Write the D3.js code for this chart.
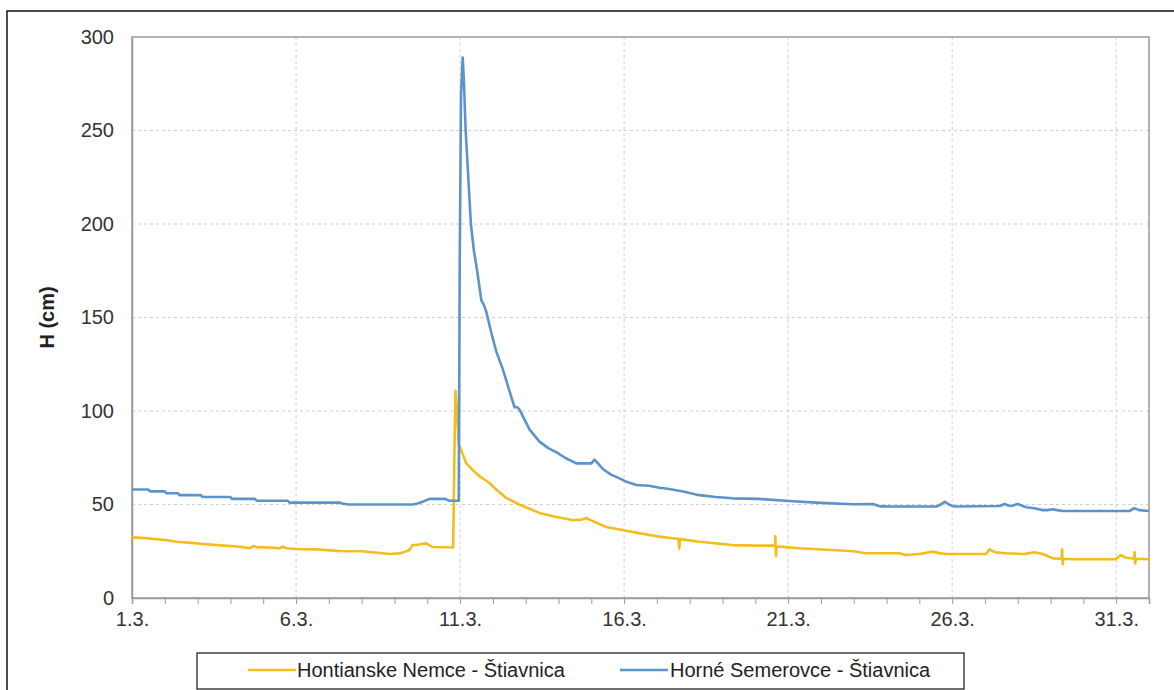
<!DOCTYPE html>
<html>
<head>
<meta charset="utf-8">
<script src="https://cdn.jsdelivr.net/npm/d3@7"></script>
<style>
  html, body { margin: 0; padding: 0; background: #fff; }
  svg { display: block; font-family: Arial, "Liberation Sans", sans-serif; }
</style>
</head>
<body>
<svg id="chart" width="1174" height="690"></svg>
<script>
// ---- Data (day of March, water level H in cm) ----
const seriesNames = ["Hontianske Nemce - Štiavnica", "Horné Semerovce - Štiavnica"];
const seriesColors = ["#f4bd1c", "#5b94cc"];

const xTickDays = [1, 6, 11, 16, 21, 26, 31];
const xTickLabels = ["1.3.", "6.3.", "11.3.", "16.3.", "21.3.", "26.3.", "31.3."];
const yTicks = [0, 50, 100, 150, 200, 250, 300];

// Hontianske Nemce - Štiavnica
const hnTime = [1.0,1.4,1.75,2.0,2.36,2.8,3.27,3.8,4.29,4.59,4.7,4.8,5.2,5.5,5.6,5.7,6.01,6.6,7.33,8.0,8.65,8.85,9.2,9.46,9.55,9.7,9.97,10.1,10.16,10.5,10.79,10.83,10.86,10.89,10.96,10.99,11.19,11.39,11.6,11.9,12.1,12.41,12.8,13.42,13.9,14.42,14.7,14.84,15.0,15.45,15.9,16.46,17.07,17.6,17.66,17.68,17.7,18.29,19.3,20.0,20.6,20.61,20.63,20.65,21.33,22.34,23.0,23.36,24.38,24.59,25.0,25.41,25.6,25.81,27.03,27.14,27.3,27.64,28.2,28.5,28.76,29.07,29.34,29.35,29.37,29.39,29.68,30.98,31.14,31.3,31.55,31.56,31.58,31.6,32.0];
const hnLevel = [32.4,32,31.4,31,30.1,29.5,28.7,28,27.4,26.6,27.8,27.2,27,26.6,27.5,26.6,26.2,26,25.1,25,23.9,23.5,24,25.7,28.3,28.5,29.2,27.8,27.3,27.1,27,80,111,105,82,81,72,68.4,65,61.5,58,53.5,50,45.5,43.5,41.7,41.8,42.8,41.5,38,36.5,34.7,32.8,31.7,31.6,26.5,31.5,30.1,28.3,28,28,33,22.5,27.6,26.6,25.7,25,23.9,23.9,23,23.5,24.8,24,23.5,23.5,26,24.5,23.9,23.5,24.5,23.5,21.2,21,26,18,21,20.7,20.7,23,21.5,21,24.5,18.5,21,20.7];

// Horné Semerovce - Štiavnica
const hsTime = [1.0,1.5,1.55,2.0,2.05,2.4,2.45,3.1,3.15,4.0,4.05,4.75,4.8,5.75,5.8,7.35,7.4,7.6,9.55,9.7,9.86,10.07,10.55,10.6,10.68,10.96,10.99,11.03,11.08,11.12,11.17,11.33,11.42,11.52,11.65,11.72,11.8,11.95,12.1,12.31,12.5,12.66,12.75,12.82,13.12,13.42,13.7,13.93,14.2,14.54,15.0,15.1,15.2,15.35,15.6,15.86,16.1,16.37,16.77,17.07,17.28,17.8,18.29,18.8,19.3,20.1,20.93,21.84,22.96,23.59,23.8,24.2,25.52,25.65,25.77,25.9,26.07,27.44,27.6,27.7,27.8,28.0,28.25,28.5,28.76,28.9,29.07,29.2,29.37,31.4,31.5,31.55,31.7,32.0];
const hsLevel = [58,58,57,57,56,56,55,55,54,54,53,53,52,52,51,51,50.5,50,50,50.5,51.5,53,53,52.5,52,52,180,270,289,275,250,200,186,175,159,157,153,142,132,122,111,102,102,100.5,90,83.6,80,78,75,72,72,74,72,69,66,64,62,60.4,60,59,58.6,57,55,54,53.3,53,52,51,50.1,50.3,49,48.9,48.9,50,51.5,50,48.9,49.2,50.3,49.5,49.2,50.3,48.5,48,47,47,47.5,47,46.5,46.5,47.5,48,47,46.5];

// ---- Layout ----
const svg = d3.select("#chart");
const W = 1174, H = 690;
const plot = { left: 132, right: 1149, top: 37, bottom: 598 };

svg.append("rect").attr("x", 0).attr("y", 0).attr("width", W).attr("height", H).attr("fill", "#fff");
// outer chart border (extends beyond the visible frame on the right and bottom)
svg.append("rect").attr("x", 7).attr("y", 11).attr("width", W + 20).attr("height", H + 20)
  .attr("fill", "none").attr("stroke", "#111").attr("stroke-width", 1.5);

const x = d3.scaleLinear().domain([1, 32]).range([plot.left, plot.right]);
const y = d3.scaleLinear().domain([0, 300]).range([plot.bottom, plot.top]);

// gridlines
const grid = svg.append("g");
grid.selectAll("line.h").data(yTicks.filter(v => v > 0 && v < 300)).enter().append("line")
  .attr("x1", plot.left).attr("x2", plot.right)
  .attr("y1", d => y(d)).attr("y2", d => y(d))
  .attr("stroke", "#cfcfcf").attr("stroke-width", 1).attr("stroke-dasharray", "3,3");
grid.selectAll("line.v").data(xTickDays.filter(d => d > 1)).enter().append("line")
  .attr("x1", d => x(d)).attr("x2", d => x(d))
  .attr("y1", plot.top).attr("y2", plot.bottom)
  .attr("stroke", "#cfcfcf").attr("stroke-width", 1).attr("stroke-dasharray", "3,3");

// plot area frame
svg.append("rect").attr("x", plot.left).attr("y", plot.top)
  .attr("width", plot.right - plot.left).attr("height", plot.bottom - plot.top)
  .attr("fill", "none").attr("stroke", "#9a9a9a").attr("stroke-width", 1.5);

// x axis: ticks every day, labels every 5 days
const xAxis = d3.axisBottom(x)
  .tickValues(d3.range(1, 33))
  .tickSize(6)
  .tickFormat(d => { const i = xTickDays.indexOf(d); return i >= 0 ? xTickLabels[i] : ""; });
const gx = svg.append("g").attr("transform", `translate(0,${plot.bottom})`).call(xAxis);
gx.select(".domain").attr("stroke", "#9a9a9a").attr("stroke-width", 1.5);
gx.selectAll(".tick line").attr("stroke", "#9a9a9a");
gx.selectAll(".tick text").attr("font-size", 20).attr("fill", "#333")
  .attr("font-family", "Arial, 'Liberation Sans', sans-serif").attr("dy", "0.95em");

// y axis
const yAxis = d3.axisLeft(y).tickValues(yTicks).tickSize(0).tickPadding(18);
const gy = svg.append("g").attr("transform", `translate(${plot.left},0)`).call(yAxis);
gy.select(".domain").attr("stroke", "#9a9a9a").attr("stroke-width", 1.5);
gy.selectAll(".tick text").attr("font-size", 20).attr("fill", "#333")
  .attr("font-family", "Arial, 'Liberation Sans', sans-serif");

// y axis title
svg.append("text")
  .attr("transform", `translate(54,${(plot.top + plot.bottom) / 2}) rotate(-90)`)
  .attr("text-anchor", "middle")
  .attr("font-size", 20).attr("font-weight", "bold").attr("fill", "#222")
  .text("H (cm)");

// series lines
const line = d3.line().x(d => x(d[0])).y(d => y(d[1]));
const series = [
  d3.zip(hnTime, hnLevel),
  d3.zip(hsTime, hsLevel)
];
svg.append("defs").append("clipPath").attr("id", "clip").append("rect")
  .attr("x", plot.left).attr("y", plot.top - 5).attr("width", plot.right - plot.left + 2).attr("height", plot.bottom - plot.top + 5);
svg.append("g").attr("clip-path", "url(#clip)").selectAll("path").data(series).enter().append("path")
  .attr("d", line)
  .attr("fill", "none")
  .attr("stroke", (d, i) => seriesColors[i])
  .attr("stroke-width", 2.6)
  .attr("stroke-linejoin", "round");

// legend
const legend = svg.append("g");
legend.append("rect").attr("x", 197).attr("y", 653).attr("width", 767).attr("height", 36)
  .attr("fill", "#fff").attr("stroke", "#111").attr("stroke-width", 1.2);
const legendItems = [
  { x1: 248, x2: 296, tx: 297 },
  { x1: 620, x2: 668, tx: 670 }
];
legendItems.forEach((it, i) => {
  legend.append("line").attr("x1", it.x1).attr("x2", it.x2).attr("y1", 670).attr("y2", 670)
    .attr("stroke", seriesColors[i]).attr("stroke-width", 2.6);
  legend.append("text").attr("x", it.tx).attr("y", 677).attr("font-size", 20).attr("fill", "#222")
    .text(seriesNames[i]);
});
</script>
</body>
</html>
